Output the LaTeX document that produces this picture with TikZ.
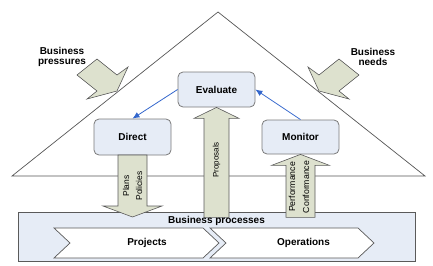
\documentclass[tikz,border=0pt]{standalone}
\usepackage{fontspec}
\setmainfont{Liberation Sans}
\usetikzlibrary{arrows.meta}

\definecolor{boxfill}{HTML}{E6ECF6}
\definecolor{boxline}{HTML}{7A7A7A}
\definecolor{arrowfill}{HTML}{DDE1CE}
\definecolor{arrowline}{HTML}{5A5A5A}
\definecolor{flowblue}{HTML}{3366CC}
\definecolor{roofline}{HTML}{555555}

\tikzset{
  rolebox/.style={draw=boxline, fill=boxfill, line width=0.8pt, rounded corners=5pt,
    minimum width=77pt, inner sep=0pt, font=\fontsize{10}{12}\selectfont\bfseries},
  blockarrow/.style={draw=arrowline, fill=arrowfill, line width=0.6pt, line join=miter},
  flow/.style={draw=flowblue, line width=0.8pt, -{Latex[length=7pt,width=6pt]}},
  sidelabel/.style={align=center, inner sep=0pt, font=\fontsize{10}{10.5}\selectfont\bfseries},
  armlabel/.style={rotate=90, align=center, inner sep=0pt},
  chevron/.style={draw=arrowline, fill=white, line width=0.7pt, line join=miter},
  lanetext/.style={inner sep=0pt, font=\fontsize{10}{12}\selectfont\bfseries}
}

% block arrow: tip point, direction angle, total length, shaft width, head width, head length
\newcommand{\barrow}[6]{%
  \draw[blockarrow, shift={#1}, rotate=#2]
    (0,0) -- (-#6,#5/2) -- (-#6,#4/2) -- (-#3,#4/2) -- (-#3,-#4/2)
    -- (-#6,-#4/2) -- (-#6,-#5/2) -- cycle;}

\begin{document}
\begin{tikzpicture}[x=1pt, y=-1pt]
  \useasboundingbox (0,0) rectangle (433,265);

  % roof of the house
  \coordinate (apex) at (218,12);
  \coordinate (roofL) at (12,176);
  \coordinate (roofR) at (425,176);
  \draw[roofline, line width=0.7pt] (roofL) -- (apex) -- (roofR) -- cycle;

  % foundation: business processes
  \node[draw=arrowline, fill=boxfill, line width=0.8pt, minimum width=397pt,
        minimum height=49pt, inner sep=0pt] (bp) at (216.5,236.5) {};
  \draw[chevron] (54,228) -- (203,228) -- (219,243) -- (203,258) -- (54,258) -- (70,243) -- cycle;
  \draw[chevron] (210,228) -- (358,228) -- (374,243) -- (358,258) -- (210,258) -- (226,243) -- cycle;
  \node[lanetext] (projects) at (147,243) {Projects};
  \node[lanetext] (operations) at (303.5,243) {Operations};

  % governance boxes
  \node[rolebox, minimum height=35pt] (evaluate) at (216.5,89.5) {Evaluate};
  \node[rolebox, minimum height=36pt] (direct) at (132.5,137) {Direct};
  \node[rolebox, minimum height=34pt] (monitor) at (300.5,137) {Monitor};

  % vertical block arrows
  \barrow{(132.5,217)}{-90}{62}{29}{59}{11}
  \barrow{(evaluate.south)}{90}{110}{25}{45}{11}
  \barrow{(monitor.south)}{90}{63}{29}{58}{11}

  \node[armlabel, font=\fontsize{8.5}{13}\selectfont] (plans) at (132.5,186) {Plans\\Policies};
  \node[armlabel, font=\fontsize{8}{10}\selectfont] (proposals) at (216.5,160) {Proposals};
  \node[armlabel, font=\fontsize{8.7}{14}\selectfont] (perf) at (299,187) {Performance\\Conformance};

  \node[lanetext] (bplabel) at (216.5,221) {Business processes};

  % external pressures pushing on the roof
  \draw[blockarrow] (97,59) -- (117,75) -- (128,67) -- (117,91) -- (87,99) -- (97,91) -- (77,75) -- cycle;
  \draw[blockarrow] (339,59) -- (319,75) -- (308,67) -- (319,91) -- (349,99) -- (339,91) -- (359,75) -- cycle;
  \node[sidelabel] (pressures) at (62,57) {Business\\pressures};
  \node[sidelabel] (needs) at (373,57) {Business\\needs};

  % feedback loop
  \draw[flow] (evaluate.west) -- (direct.north);
  \draw[flow] (monitor.north) -- (evaluate.east);
\end{tikzpicture}
\end{document}
